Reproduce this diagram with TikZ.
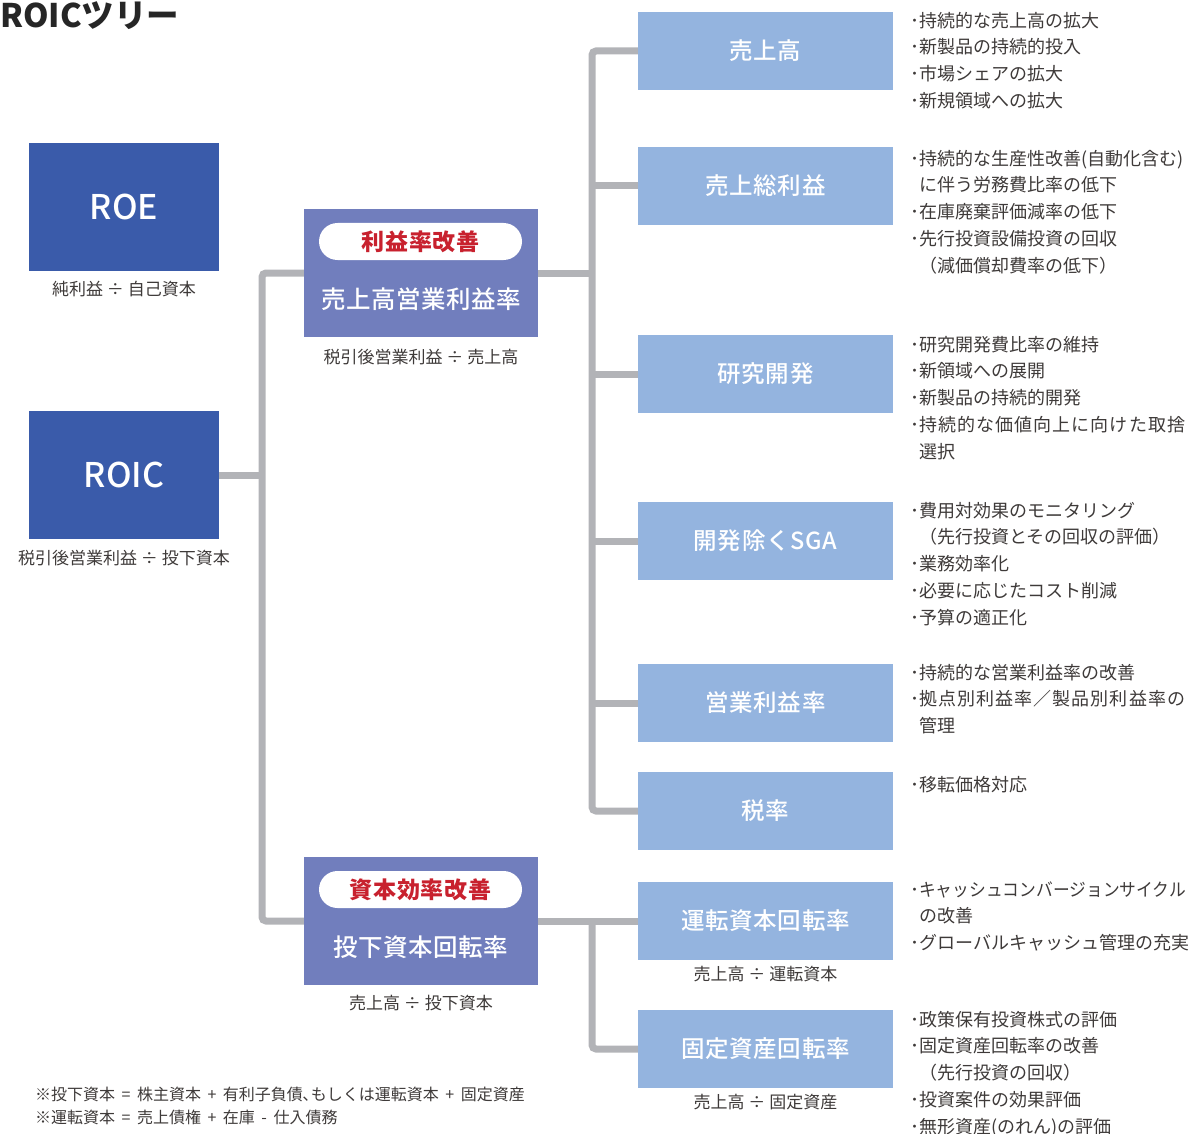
\documentclass[tikz,border=0pt]{standalone}
\usepackage{graphicx}
\usepackage{fontspec}
\setmainfont{Noto Sans CJK JP}
\newfontfamily\medfont{Noto Sans CJK JP Medium}
\definecolor{dblue}{HTML}{3A5BAA}
\definecolor{mblue}{HTML}{717EBD}
\definecolor{lblue}{HTML}{94B4DF}
\definecolor{lgray}{HTML}{B2B3B7}
\definecolor{kred}{HTML}{C8212E}
\definecolor{tgray}{HTML}{3E3A39}
\newcommand\wsp[1]{{\addfontfeature{LetterSpace=6}#1}}
\newcommand\opsp[1]{\hspace{6.5pt}#1\hspace{6.5pt}}
\tikzset{
  dbox/.style={fill=dblue, minimum width=190, minimum height=128, inner sep=0, text=white, font=\medfont\fontsize{34}{38}\selectfont},
  mbox/.style={fill=mblue, minimum width=234, minimum height=128, inner sep=0},
  pill/.style={fill=white, rounded corners=18.5, minimum width=203, minimum height=37, inner sep=0, text=kred, font=\fontsize{23}{27}\selectfont\bfseries\addfontfeature{LetterSpace=4}},
  mlabel/.style={text=white, inner sep=0, font=\medfont\fontsize{24.5}{28}\selectfont\addfontfeature{LetterSpace=2}},
  rbox/.style={fill=lblue, minimum width=255, minimum height=78, inner sep=0, text=white, font=\medfont\fontsize{23.5}{27}\selectfont\addfontfeature{LetterSpace=3}},
  sublabel/.style={anchor=base, inner sep=0, text=tgray, font=\fontsize{17}{20}\selectfont},
  blist/.style={anchor=north west, inner sep=0, align=left, text=tgray, font=\fontsize{18}{26.7}\selectfont},
  note/.style={anchor=base west, inner sep=0, text=tgray, font=\fontsize{16}{20}\selectfont},
  conn/.style={draw=lgray, line width=7, rounded corners=4},
}
\newcommand\fl{\rule{0pt}{17pt}}
\newcommand\ind{\hspace*{0.5em}}
\begin{document}
\begin{tikzpicture}[x=1pt,y=-1pt]
\useasboundingbox (0,0) rectangle (1191,1134);
% title
\node[anchor=base west, inner sep=0, text=black!85, font=\fontsize{32.5}{36}\selectfont\bfseries] (title) at (0,27.5) {ROICツリー};
% left boxes
\node[dbox] (roe) at (124,207) {ROE};
\node[sublabel] (roelab) at (124,295) {純利益 ÷ 自己資本};
\node[dbox] (roic) at (124,475) {ROIC};
\node[sublabel] (roiclab) at (124,564) {税引後営業利益 ÷ 投下資本};
% middle boxes
\node[mbox] (m1) at (421,273) {};
\node[pill] (p1) at (420.5,241.5) {利益率改善};
\node[mlabel] (m1t) at (421,299) {売上高営業利益率};
\node[sublabel] (m1lab) at (421,363) {税引後営業利益 ÷ 売上高};
\node[mbox] (m2) at (421,921) {};
\node[pill] (p2) at (420.5,889.5) {資本効率改善};
\node[mlabel] (m2t) at (421,947) {投下資本回転率};
\node[sublabel] (m2lab) at (421,1009) {売上高 ÷ 投下資本};
% right boxes
\node[rbox] (r1) at (765.5,51) {売上高};
\node[rbox] (r2) at (765.5,186) {売上総利益};
\node[rbox] (r3) at (765.5,374) {研究開発};
\node[rbox] (r4) at (765.5,541) {開発除くSGA};
\node[rbox] (r5) at (765.5,703) {営業利益率};
\node[rbox] (r6) at (765.5,811) {税率};
\node[rbox] (r7) at (765.5,921) {運転資本回転率};
\node[sublabel] (r7lab) at (765.5,980) {売上高 ÷ 運転資本};
\node[rbox] (r8) at (765.5,1049) {固定資産回転率};
\node[sublabel] (r8lab) at (765.5,1108) {売上高 ÷ 固定資産};
% connectors
\coordinate (jL) at (262,475);
\coordinate (jM) at (592,273);
\coordinate (jB) at (592,921);
\draw[conn] (m1.west) -| (jL) |- (m2.west);
\draw[conn] (roic.east) -- (jL);
\draw[conn] (r1.west) -| (jM) |- (r6.west);
\draw[conn] (m1.east) -- (jM);
\draw[conn] (r2.west) -- (r2.west -| jM);
\draw[conn] (r3.west) -- (r3.west -| jM);
\draw[conn] (r4.west) -- (r4.west -| jM);
\draw[conn] (r5.west) -- (r5.west -| jM);
\draw[conn] (m2.east) -- (r7.west);
\draw[conn] (jB) |- (r8.west);
% bullet lists
\node[blist] (l1) at (910,10) {\fl･持続的な売上高の拡大\\･新製品の持続的投入\\･市場シェアの拡大\\･新規領域への拡大};
\node[blist] (l2) at (910,148) {\fl･持続的な生産性改善(自動化含む)\\\ind に伴う労務費比率の低下\\･在庫廃棄評価減率の低下\\･先行投資設備投資の回収\\\ind（減価償却費率の低下）};
\node[blist] (l3) at (910,334) {\fl･研究開発費比率の維持\\･新領域への展開\\･新製品の持続的開発\\･\wsp{持続的な価値向上に向けた取捨}\\\ind 選択};
\node[blist] (l4) at (910,500) {\fl･費用対効果のモニタリング\\\ind（先行投資とその回収の評価）\\･業務効率化\\･必要に応じたコスト削減\\･予算の適正化};
\node[blist] (l5) at (910,662) {\fl･持続的な営業利益率の改善\\･\wsp{拠点別利益率／製品別利益率の}\\\ind 管理};
\node[blist] (l6) at (910,774) {\fl･移転価格対応};
\node[blist] (l7) at (910,879) {\fl･\scalebox{0.93}[1]{キャッシュコンバージョンサイクル}\\\ind の改善\\･グローバルキャッシュ管理の充実};
\node[blist] (l8) at (910,1009) {\fl･政策保有投資株式の評価\\･固定資産回転率の改善\\\ind（先行投資の回収）\\･投資案件の効果評価\\･無形資産(のれん)の評価};
% notes
\node[note] (n1) at (35,1100) {※投下資本\opsp{=}株主資本\opsp{+}有利子負債､もしくは運転資本\opsp{+}固定資産};
\node[note] (n2) at (35,1123) {※運転資本\opsp{=}売上債権\opsp{+}在庫\opsp{-}仕入債務};
\end{tikzpicture}
\end{document}
